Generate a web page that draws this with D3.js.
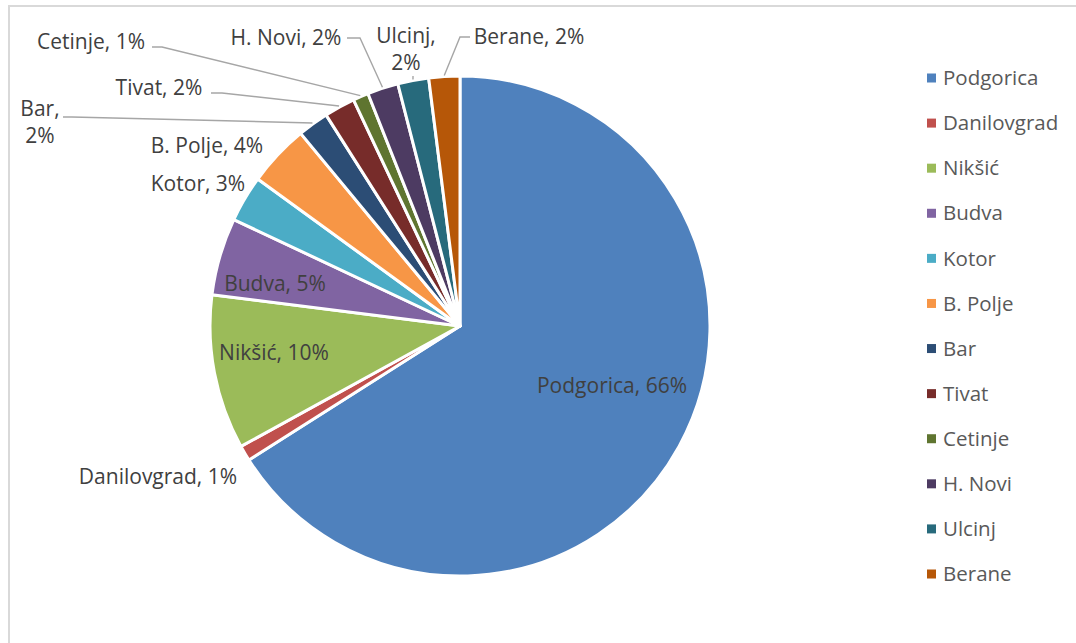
<!DOCTYPE html>
<html>
<head>
<meta charset="utf-8">
<script src="https://cdn.jsdelivr.net/npm/d3@7"></script>
<style>
  html, body { margin: 0; padding: 0; background: #fff; }
  svg { display: block; }
  text { font-family: "Open Sans", "Noto Sans", sans-serif; }
</style>
</head>
<body>
<svg id="chart" width="1076" height="643"></svg>
<script>
// Municipalities and their shares (%)
const categories = ["Podgorica", "Danilovgrad", "Nikšić", "Budva", "Kotor", "B. Polje",
                    "Bar", "Tivat", "Cetinje", "H. Novi", "Ulcinj", "Berane"];
const shares = [66, 1, 10, 5, 3, 4, 2, 2, 1, 2, 2, 2];
const palette = ["#4F81BD", "#C0504D", "#9BBB59", "#8064A2", "#4BACC6", "#F79646",
                 "#2C4D75", "#772C2A", "#5F7530", "#4D3B62", "#276A7C", "#B65708"];

// Label placement: text lines, centre point, and (for outside labels) leader start
const labelLayout = [
  { lines: ["Podgorica, 66%"], x: 612, y: 386 },
  { lines: ["Danilovgrad, 1%"], x: 158, y: 477 },
  { lines: ["Nikšić, 10%"], x: 274, y: 353 },
  { lines: ["Budva, 5%"], x: 275, y: 284 },
  { lines: ["Kotor, 3%"], x: 198, y: 184 },
  { lines: ["B. Polje, 4%"], x: 207, y: 146 },
  { lines: ["Bar,", "2%"], x: 40, y: 109, lead: [[63, 117], [72, 117]] },
  { lines: ["Tivat, 2%"], x: 159, y: 88, lead: [[211, 93], [222, 93]] },
  { lines: ["Cetinje, 1%"], x: 91, y: 42, lead: [[152, 47], [162, 47]] },
  { lines: ["H. Novi, 2%"], x: 286, y: 38, lead: [[347, 38], [360, 38]] },
  { lines: ["Ulcinj,", "2%"], x: 406, y: 36, lead: [[413, 76]] },
  { lines: ["Berane, 2%"], x: 529, y: 37, lead: [[470, 37], [460, 37]] }
];

const svg = d3.select("#chart");
const cx = 460, cy = 326, radius = 250;

// Chart area frame
svg.append("path")
  .attr("d", "M9,643 V6 H1076")
  .attr("fill", "none")
  .attr("stroke", "#d9d9d9")
  .attr("stroke-width", 2);

const data = categories.map((c, i) => ({ name: c, value: shares[i], color: palette[i] }));

const pie = d3.pie().value(d => d.value).sort(null);
const arcs = pie(data);
const arc = d3.arc().innerRadius(0).outerRadius(radius);

const g = svg.append("g").attr("transform", `translate(${cx},${cy})`);

g.selectAll("path.slice")
  .data(arcs)
  .join("path")
  .attr("class", "slice")
  .attr("d", arc)
  .attr("fill", d => d.data.color)
  .attr("stroke", "#fff")
  .attr("stroke-width", 3)
  .attr("stroke-linejoin", "round");

// Leader lines from outside labels to the slice edge
const edgeArc = d3.arc().innerRadius(radius + 1).outerRadius(radius + 1);
arcs.forEach((a, i) => {
  const lay = labelLayout[i];
  if (!lay.lead) return;
  const [ex, ey] = edgeArc.centroid(a);
  const pts = lay.lead.concat([[ex + cx, ey + cy]]);
  svg.append("path")
    .attr("d", d3.line()(pts))
    .attr("fill", "none")
    .attr("stroke", "#a6a6a6")
    .attr("stroke-width", 1.4);
});

// Data labels
const lineGap = 27;
labelLayout.forEach((lay, i) => {
  const t = svg.append("text")
    .attr("text-anchor", "middle")
    .attr("font-size", 21)
    .attr("fill", "#404040");
  lay.lines.forEach((s, k) => {
    t.append("tspan")
      .attr("x", lay.x)
      .attr("y", lay.y + k * lineGap)
      .attr("dy", "0.35em")
      .text(s);
  });
});

// Legend
const legend = svg.append("g");
const legendY = d3.scalePoint().domain(categories).range([78, 574]);
categories.forEach((c, i) => {
  const y = legendY(c);
  legend.append("rect")
    .attr("x", 927).attr("y", y - 4.5)
    .attr("width", 9).attr("height", 9)
    .attr("fill", palette[i]);
  legend.append("text")
    .attr("x", 943).attr("y", y)
    .attr("dy", "0.35em")
    .attr("font-size", 20.5)
    .attr("fill", "#595959")
    .text(c);
});
</script>
</body>
</html>
